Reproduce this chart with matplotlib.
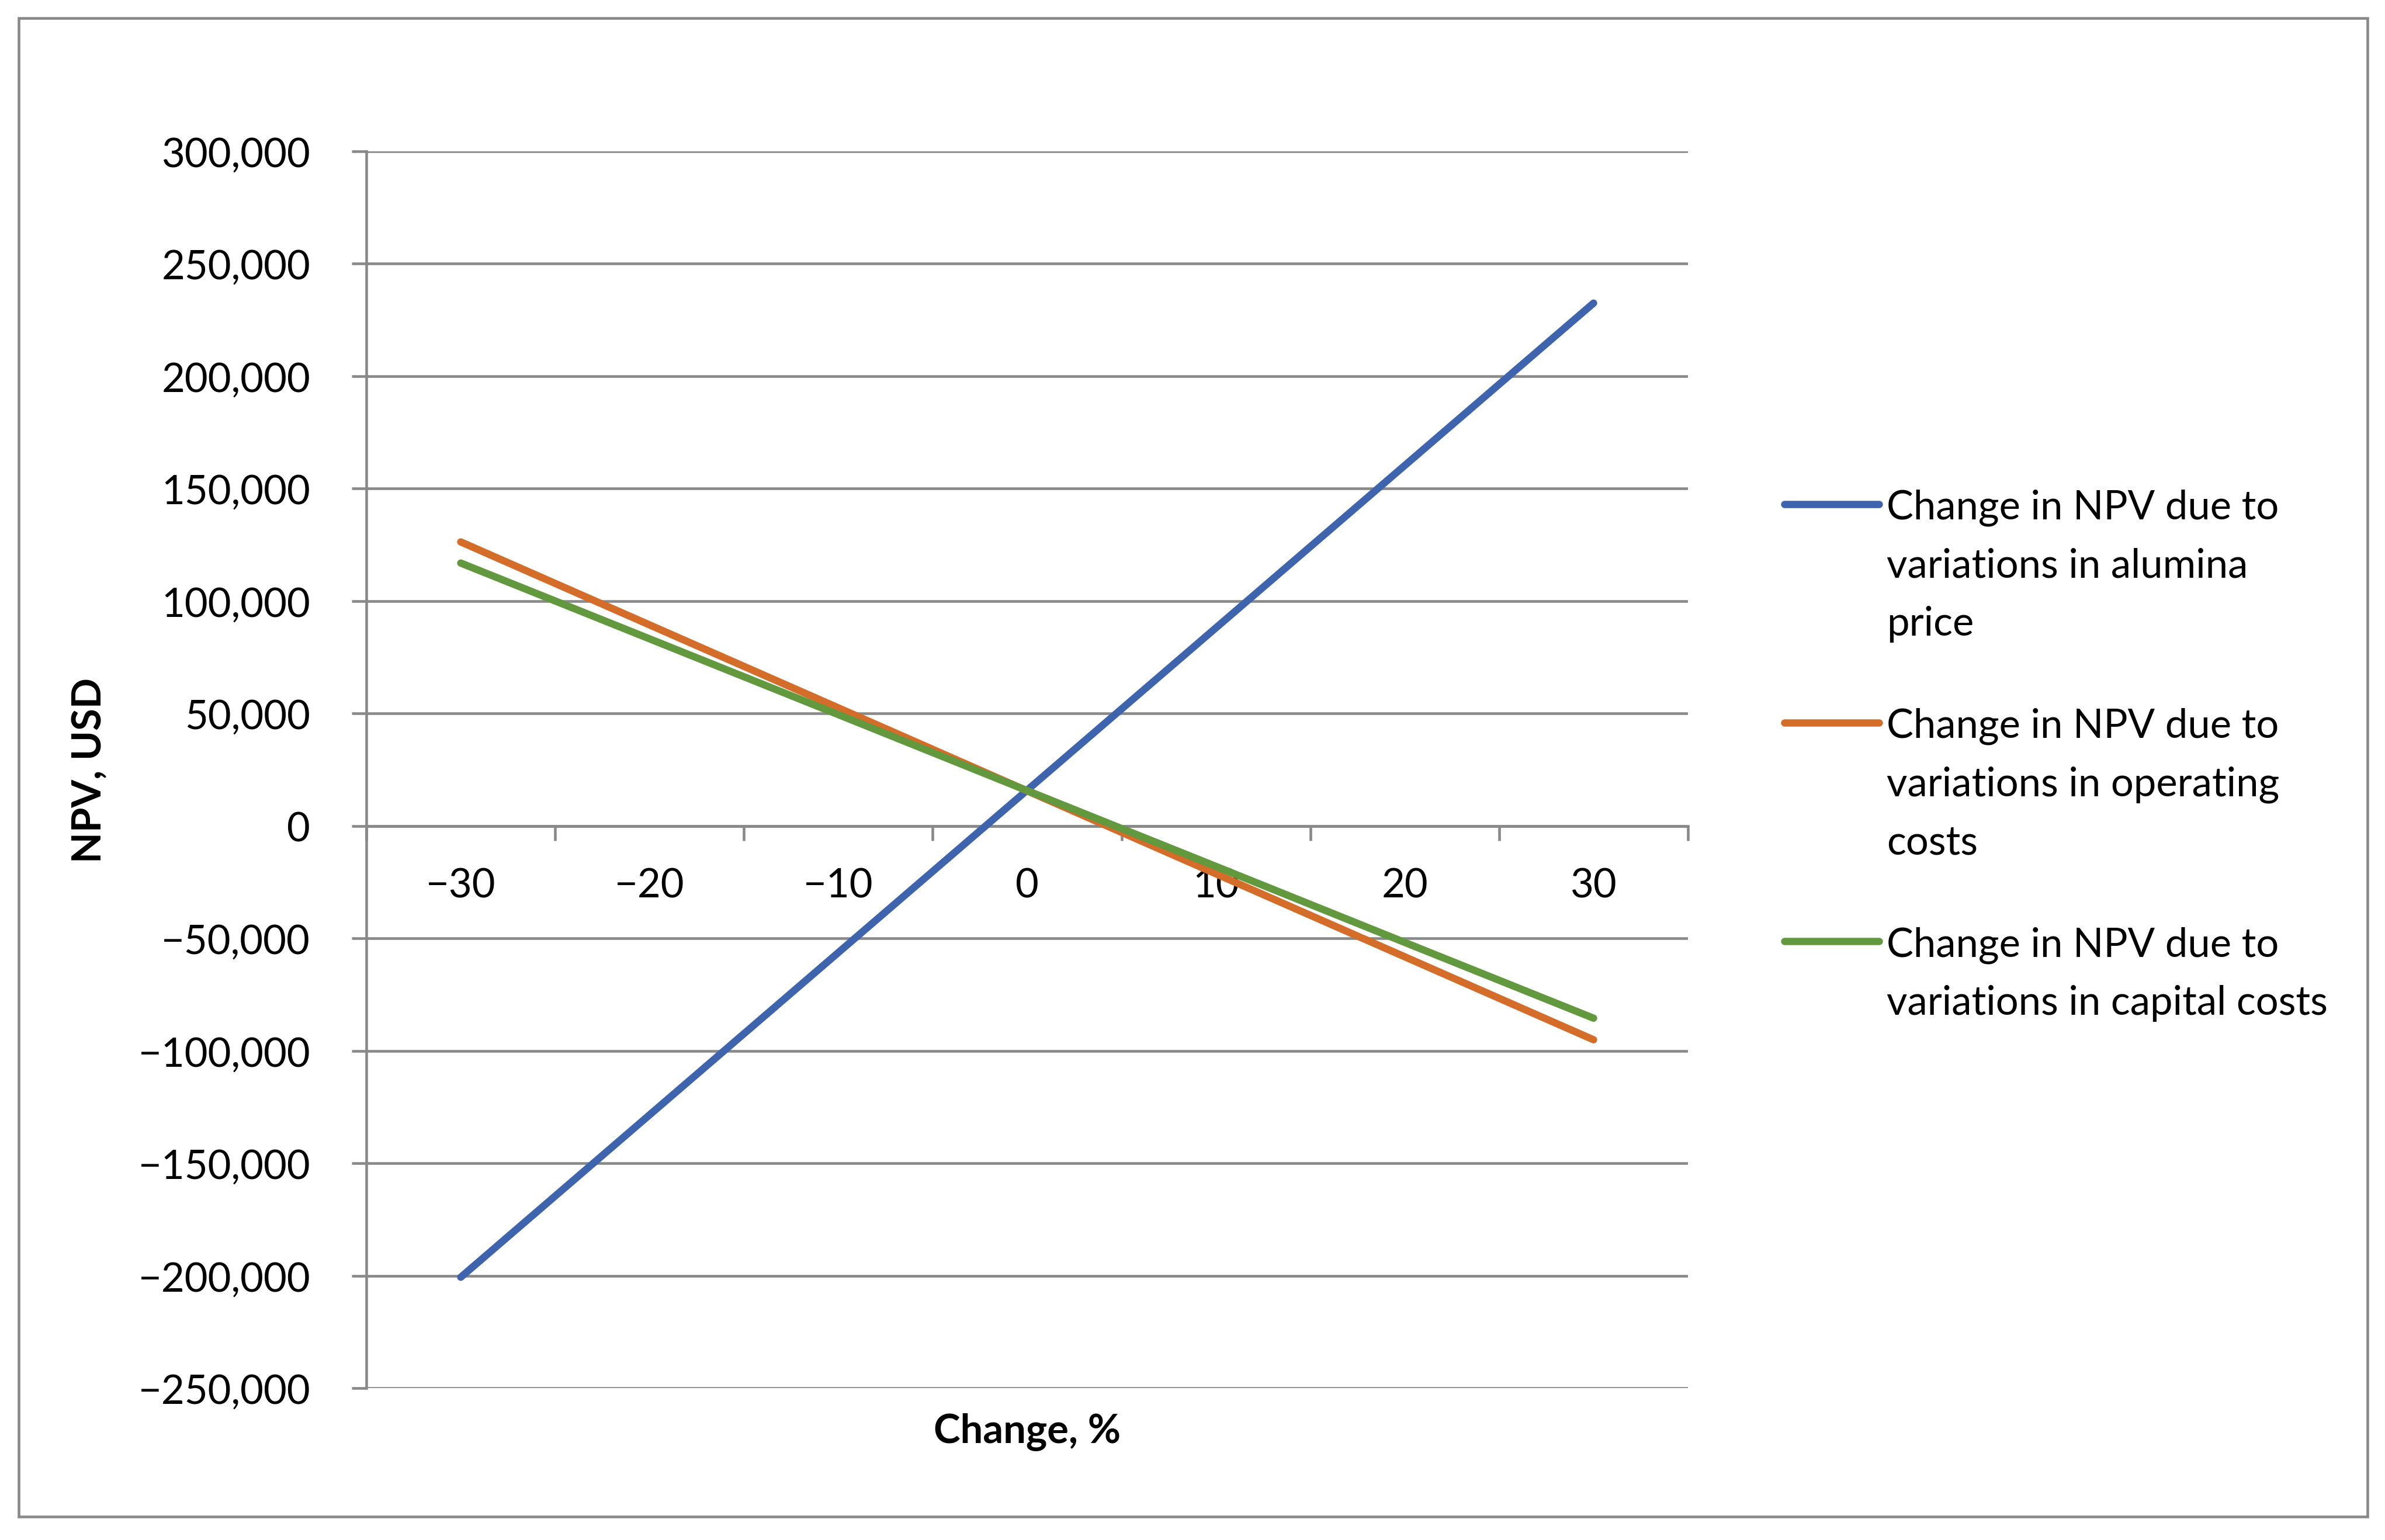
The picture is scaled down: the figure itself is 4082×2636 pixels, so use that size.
import matplotlib
matplotlib.use("Agg")
import matplotlib.pyplot as plt
from matplotlib.ticker import FuncFormatter
from matplotlib.patches import Rectangle

# ---------------- data ----------------
change_pct = [-30, -20, -10, 0, 10, 20, 30]
npv_alumina_price = [-200700, -128500, -56300, 15900, 88100, 160300, 232500]
npv_operating_costs = [126300, 89400, 52500, 15600, -21300, -58200, -95100]
npv_capital_costs = [116900, 83200, 49500, 15700, -18000, -51800, -85500]

series_labels = [
    "Change in NPV due to\nvariations in alumina\nprice",
    "Change in NPV due to\nvariations in operating\ncosts",
    "Change in NPV due to\nvariations in capital costs",
]
series_colors = ["#3D64AD", "#D36D29", "#62993E"]
y_ticks = list(range(-250000, 300001, 50000))
x_label = "Change, %"
y_label = "NPV, USD"

# ---------------- style ----------------
W, H, DPI = 4082, 2637, 300
GRAY = "#898989"
FS = 16.5
LW = 3.0
plt.rcParams['font.family'] = ['Lato', 'DejaVu Sans']
plt.rcParams['axes.unicode_minus'] = True

fig = plt.figure(figsize=(W / DPI, H / DPI), dpi=DPI)
fig.patch.set_facecolor("white")
ax = fig.add_axes([627 / W, 1 - 2377 / H, (2889 - 627) / W, (2377 - 260) / H])

series = [npv_alumina_price, npv_operating_costs, npv_capital_costs]
for vals, lab, col in zip(series, series_labels, series_colors):
    ax.plot(change_pct, vals, color=col, lw=LW, solid_capstyle="round",
            label=lab, zorder=3)

ax.set_xlim(-35, 35)
ax.set_ylim(y_ticks[0], y_ticks[-1])

# category-style x axis: tick marks between categories, labels at centers
ax.set_xticks(list(range(-35, 36, 10)))
ax.set_xticks(change_pct, labels=[f"{v}".replace("-", "\u2212") for v in change_pct], minor=True)
ax.tick_params(axis="x", which="major", direction="out", length=6, width=1.1,
               color=GRAY, labelbottom=False)
ax.tick_params(axis="x", which="minor", length=0, pad=17, labelsize=FS, labelcolor="black")

ax.set_yticks(y_ticks)
ax.yaxis.set_major_formatter(FuncFormatter(lambda v, p: f"{v:,.0f}".replace("-", "\u2212")))
ax.tick_params(axis="y", direction="out", length=6, width=1.1, color=GRAY, pad=17,
               labelsize=FS, labelcolor="black")

ax.yaxis.grid(True, color=GRAY, lw=1.1)
ax.set_axisbelow(True)
for s in ("top", "right"):
    ax.spines[s].set_visible(False)
ax.spines["left"].set_color(GRAY)
ax.spines["left"].set_linewidth(1.1)
ax.spines["bottom"].set_position(("data", 0))
ax.spines["bottom"].set_color(GRAY)
ax.spines["bottom"].set_linewidth(1.1)

ax.set_xlabel(x_label, fontsize=FS, fontweight="bold")
ax.xaxis.set_label_coords(0.5, -(2419 - 2377) / (2377 - 260))
ax.xaxis.label.set_va("top")
ax.set_ylabel(y_label, fontsize=FS, fontweight="bold")
ax.yaxis.set_label_coords((185 - 627) / (2889 - 627), 0.5)

leg = fig.legend(loc="upper left", bbox_to_anchor=(3054 / W, 1 - 838 / H),
                 frameon=False, fontsize=FS, borderpad=0, borderaxespad=0,
                 handlelength=2.36, handletextpad=0.19, handleheight=0.85,
                 labelspacing=1.63)
for t in leg.get_texts():
    t.set_linespacing(1.71)
for ln in leg.get_lines():
    ln.set_linewidth(LW)
    ln.set_solid_capstyle("round")
try:
    for col in leg._legend_handle_box.get_children():
        for item in col.get_children():
            item.align = "top"
except Exception:
    pass

fig.patches.append(Rectangle((32 / W, 1 - 2597 / H), (4052 - 32) / W, (2597 - 32) / H,
                             transform=fig.transFigure, fill=False, edgecolor=GRAY,
                             lw=1.1, zorder=0))

fig.savefig("out.png", dpi=DPI, facecolor="white")
